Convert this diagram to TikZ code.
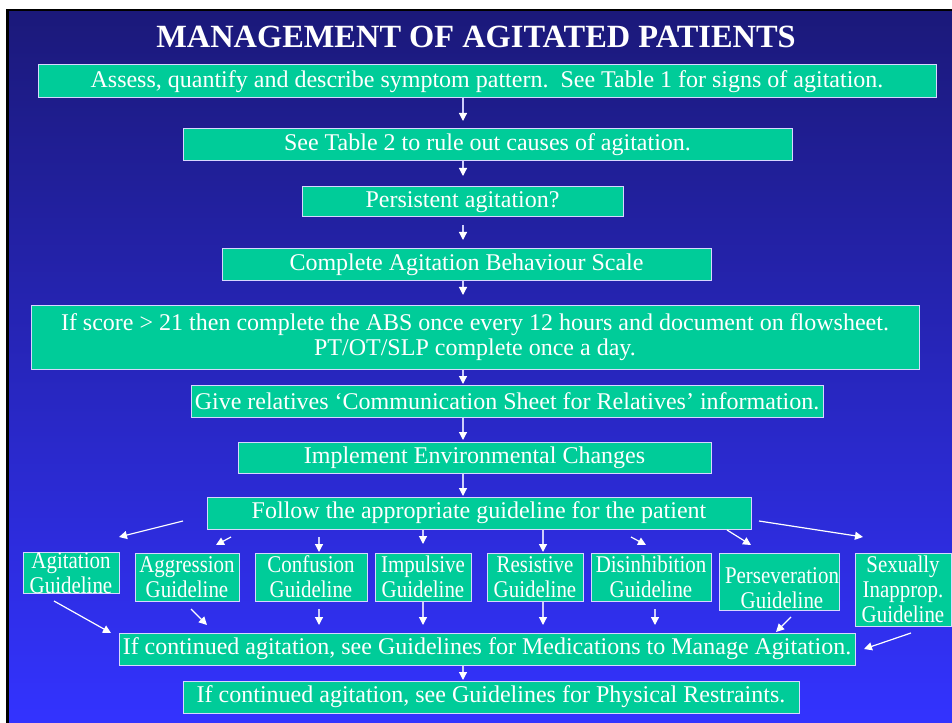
\documentclass[tikz,border=0pt]{standalone}
\usepackage{fontspec}
\setmainfont{Liberation Serif}
\newfontfamily\gfont[FakeStretch=0.872]{Liberation Serif}
\usetikzlibrary{arrows.meta}
\newdimen\px \px=0.75pt
\definecolor{boxfill}{RGB}{0,204,153}
\definecolor{boxline}{RGB}{215,215,255}
\definecolor{arrline}{RGB}{205,205,250}
\definecolor{bgtop}{RGB}{27,25,122}
\definecolor{bgbot}{RGB}{51,51,255}
\begin{document}
\begin{tikzpicture}[x=0.75pt,y=-0.75pt,
  box/.style={draw=boxline, line width=0.75pt, fill=boxfill, text=white, inner sep=0pt, align=center, font=\fontsize{18}{18.8}\selectfont},
  gbox/.style={box, font=\gfont\fontsize{18}{18.8}\selectfont},
  txt/.style={text=white, inner sep=0pt, align=center, font=\gfont\fontsize{18}{18.8}\selectfont},
  arr/.style={draw=arrline, line width=0.9pt, -{Triangle[width=6pt,length=6pt,color=white]}},
  darr/.style={arr, draw=white}]
\useasboundingbox (0,0) rectangle (952,723);
\fill[white] (0,0) rectangle (952,723);
\fill[black] (6,9) rectangle (952,723);
\shade[top color=bgtop, bottom color=bgbot] (9,12) rectangle (952,723);

\node[text=white, inner sep=0pt, font=\fontsize{24.3}{28}\selectfont\bfseries] (title) at (476,37) {MANAGEMENT OF AGITATED PATIENTS};

\node[box, minimum width=898\px, minimum height=33\px] (A) at (487,81.5) {Assess, quantify and describe symptom pattern.\ \ See Table 1 for signs of agitation.};
\node[box, minimum width=609\px, minimum height=32\px] (B) at (487.5,145) {See Table 2 to rule out causes of agitation.};
\node[box, minimum width=321\px, minimum height=30\px] (C) at (462.5,202) {Persistent agitation?};
\node[box, minimum width=489\px, minimum height=32\px] (D) at (466.5,265) {Complete Agitation Behaviour Scale};
\node[box, minimum width=888\px, minimum height=63\px] (E) at (475,337.5) {If score > 21 then complete the ABS once every 12 hours and document on flowsheet.\\PT/OT/SLP complete once a day.};
\node[box, minimum width=632\px, minimum height=32\px] (F) at (507,401) {Give relatives ‘Communication Sheet for Relatives’ information.};
\node[box, minimum width=473\px, minimum height=31\px] (G) at (474.5,457.5) {Implement Environmental Changes};
\node[box, minimum width=544\px, minimum height=32\px] (H) at (479,513) {Follow the appropriate guideline for the patient};

\node[gbox, minimum width=96\px, minimum height=40\px] (ag) at (71,573) {Agitation\\Guideline};
\node[gbox, minimum width=104\px, minimum height=48\px] (agg) at (187,577) {Aggression\\Guideline};
\node[gbox, minimum width=112\px, minimum height=48\px] (con) at (311,577) {Confusion\\Guideline};
\node[gbox, minimum width=96\px, minimum height=48\px] (imp) at (423,577) {Impulsive\\Guideline};
\node[gbox, minimum width=96\px, minimum height=48\px] (res) at (535,577) {Resistive\\Guideline};
\node[gbox, minimum width=120\px, minimum height=48\px] (dis) at (651,577) {Disinhibition\\Guideline};
\node[gbox, minimum width=120\px, minimum height=57\px] (per) at (779,581.5) {};
\node[txt] (perT) at (782,588) {Perseveration\\Guideline};
\node[gbox, minimum width=96\px, minimum height=73\px] (sex) at (903,589.5) {Sexually\\Inapprop.\\Guideline};

\node[box, minimum width=736\px, minimum height=32\px] (I) at (487,649) {If continued agitation, see Guidelines for Medications to Manage Agitation.};
\node[box, minimum width=616\px, minimum height=32\px] (J) at (491,697) {If continued agitation, see Guidelines for Physical Restraints.};

% main column arrows
\coordinate (t1) at (463,121);
\coordinate (t2) at (463,176);
\coordinate (s3) at (463,225);
\coordinate (t3) at (463,240);
\coordinate (t4) at (463,295);
\coordinate (t5) at (463,384);
\coordinate (t6) at (463,440);
\coordinate (t7) at (463,496);
\coordinate (t8) at (463,680);
\draw[arr] (A.south -| t1) -- (t1);
\draw[arr] (B.south -| t2) -- (t2);
\draw[arr] (s3) -- (t3);
\draw[arr] (D.south -| t4) -- (t4);
\draw[arr] (E.south -| t5) -- (t5);
\draw[arr] (F.south -| t6) -- (t6);
\draw[arr] (G.south -| t7) -- (t7);
\draw[arr] (I.south -| t8) -- (t8);

% fan-out arrows
\coordinate (h1s) at (183,521);  \coordinate (h1t) at (119,537);
\coordinate (h2s) at (231,537);  \coordinate (h2t) at (216,545);
\coordinate (h3s) at (319,537);  \coordinate (h3t) at (319,552);
\coordinate (h4t) at (423,544);
\coordinate (h5t) at (543,552);
\coordinate (h6s) at (631,537);  \coordinate (h6t) at (646,545);
\coordinate (h7s) at (727,530);  \coordinate (h7t) at (751,545);
\coordinate (h8s) at (759,521);  \coordinate (h8t) at (863,537);
\draw[darr] (h1s) -- (h1t);
\draw[darr] (h2s) -- (h2t);
\draw[arr] (h3s) -- (h3t);
\draw[arr] (H.south -| h4t) -- (h4t);
\draw[arr] (H.south -| h5t) -- (h5t);
\draw[darr] (h6s) -- (h6t);
\draw[darr] (h7s) -- (h7t);
\draw[darr] (h8s) -- (h8t);

% fan-in arrows
\coordinate (g1s) at (54,601);   \coordinate (g1t) at (111,633);
\coordinate (g2s) at (191,609);  \coordinate (g2t) at (207,625);
\coordinate (g3s) at (319,609);  \coordinate (g3t) at (319,625);
\coordinate (g4t) at (423,625);
\coordinate (g5t) at (543,625);
\coordinate (g6s) at (655,609);  \coordinate (g6t) at (655,625);
\coordinate (g7s) at (791,617);  \coordinate (g7t) at (776,632);
\coordinate (g8s) at (911,633);  \coordinate (g8t) at (864,649);
\draw[darr] (g1s) -- (g1t);
\draw[darr] (g2s) -- (g2t);
\draw[arr] (g3s) -- (g3t);
\draw[arr] (imp.south -| g4t) -- (g4t);
\draw[arr] (res.south -| g5t) -- (g5t);
\draw[arr] (g6s) -- (g6t);
\draw[darr] (g7s) -- (g7t);
\draw[darr] (g8s) -- (g8t);
\end{tikzpicture}
\end{document}
